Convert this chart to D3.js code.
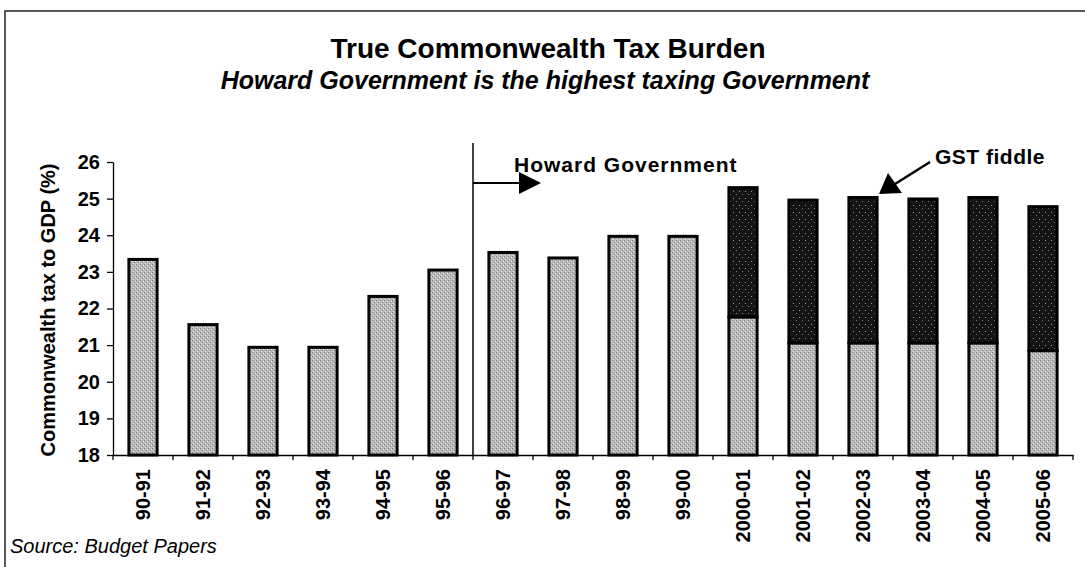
<!DOCTYPE html>
<html lang="en">
<head>
    <meta charset="UTF-8">
    <title>True Commonwealth Tax Burden</title>
    <script src="https://cdn.jsdelivr.net/npm/d3@7"></script>
    <style>
        body { margin: 0; background: #fff; }
        text { font-family: Arial, "Liberation Sans", sans-serif; fill: #000; }
    </style>
</head>
<body>
<script type="text/javascript">
    // categories (financial years)
    var years = ['90-91', '91-92', '92-93', '93-94', '94-95', '95-96', '96-97', '97-98',
        '98-99', '99-00', '2000-01', '2001-02', '2002-03', '2003-04', '2004-05', '2005-06'];
    // tax to GDP excluding GST (%)
    var baseTax = [23.34, 21.56, 20.94, 20.94, 22.33, 23.05, 23.53, 23.38,
        23.97, 23.97, 21.77, 21.06, 21.06, 21.06, 21.06, 20.85];
    // GST part on top (%)
    var gstTax = [0, 0, 0, 0, 0, 0, 0, 0, 0, 0, 3.53, 3.90, 3.97, 3.93, 3.97, 3.93];
    // y axis ticks
    var yTicks = [18, 19, 20, 21, 22, 23, 24, 25, 26];

    var width = 1085, height = 567;
    var svg = d3.select('body').append('svg')
        .attr('width', width)
        .attr('height', height);

    // fill patterns: light stipple and dark stipple
    var defs = svg.append('defs');
    var pl = defs.append('pattern').attr('id', 'light').attr('patternUnits', 'userSpaceOnUse')
        .attr('width', 4).attr('height', 4);
    pl.append('rect').attr('width', 4).attr('height', 4).attr('fill', '#b9b9b9');
    pl.append('rect').attr('x', 0).attr('y', 0).attr('width', 1).attr('height', 1).attr('fill', '#7a7a7a');
    pl.append('rect').attr('x', 2).attr('y', 2).attr('width', 1).attr('height', 1).attr('fill', '#808080');
    pl.append('rect').attr('x', 1).attr('y', 3).attr('width', 1).attr('height', 1).attr('fill', '#e8e8e8');
    pl.append('rect').attr('x', 3).attr('y', 1).attr('width', 1).attr('height', 1).attr('fill', '#e8e8e8');
    var pd = defs.append('pattern').attr('id', 'dark').attr('patternUnits', 'userSpaceOnUse')
        .attr('width', 6).attr('height', 7);
    pd.append('rect').attr('width', 6).attr('height', 7).attr('fill', '#141414');
    pd.append('rect').attr('x', 1).attr('y', 2).attr('width', 1).attr('height', 1).attr('fill', '#9a9a9a');
    pd.append('rect').attr('x', 4).attr('y', 5).attr('width', 1).attr('height', 1).attr('fill', '#777');

    // frame (top and left only)
    svg.append('path')
        .attr('d', 'M5,567V11H1085')
        .attr('fill', 'none').attr('stroke', '#222').attr('stroke-width', 1.5);

    // titles
    svg.append('text').attr('x', 548).attr('y', 58).attr('text-anchor', 'middle')
        .style('font-size', '28px').style('font-weight', 'bold')
        .text('True Commonwealth Tax Burden');
    svg.append('text').attr('x', 545).attr('y', 89).attr('text-anchor', 'middle')
        .style('font-size', '25px').style('font-weight', 'bold').style('font-style', 'italic')
        .text('Howard Government is the highest taxing Government');

    // plot area
    var x0 = 113, x1 = 1073, yTop = 162, yBot = 455;

    var xScale = d3.scaleBand()
        .domain(years)
        .range([x0, x1])
        .paddingInner(0.53)
        .paddingOuter(0.265);
    var yScale = d3.scaleLinear()
        .domain([18, 26])
        .range([yBot, yTop])
        .clamp(true);

    var step = xScale.step();
    function boundary(i) {
        return x0 + i * step;
    }

    // stacked data
    var rows = years.map(function (d, i) {
        return {year: d, base: baseTax[i], gst: gstTax[i]};
    });
    var series = d3.stack().keys(['base', 'gst'])(rows);
    var fills = {base: 'url(#light)', gst: 'url(#dark)'};

    svg.selectAll('.layer')
        .data(series)
        .enter()
        .append('g')
        .attr('class', 'layer')
        .attr('fill', function (s) { return fills[s.key]; })
        .selectAll('rect')
        .data(function (s) { return s.filter(function (d) { return d[1] > d[0]; }); })
        .enter()
        .append('rect')
        .attr('x', function (d) { return xScale(d.data.year); })
        .attr('y', function (d) { return yScale(d[1]); })
        .attr('width', xScale.bandwidth())
        .attr('height', function (d) { return yScale(d[0]) - yScale(d[1]); })
        .attr('stroke', '#000')
        .attr('stroke-width', 3);

    // y axis
    var yAxis = d3.axisLeft(yScale)
        .tickValues(yTicks)
        .tickFormat(d3.format('d'))
        .tickSize(6)
        .tickSizeOuter(0)
        .tickPadding(7);
    var gy = svg.append('g')
        .attr('transform', 'translate(' + x0 + ',0)')
        .call(yAxis);
    gy.selectAll('text').style('font-size', '20px').style('font-weight', 'bold');
    gy.selectAll('path, line').attr('stroke', '#000').attr('stroke-width', 1.3);

    // x axis (labels), boundary ticks drawn separately
    var xAxis = d3.axisBottom(xScale).tickSize(0).tickSizeOuter(0);
    var gx = svg.append('g')
        .attr('transform', 'translate(0,' + yBot + ')')
        .call(xAxis);
    gx.select('.domain').attr('stroke', '#000').attr('stroke-width', 1.3);
    gx.selectAll('text')
        .attr('transform', 'rotate(-90)')
        .attr('x', -14)
        .attr('y', 0)
        .attr('dy', '0.35em')
        .attr('text-anchor', 'end')
        .style('font-size', '20px')
        .style('font-weight', 'bold');
    svg.append('g').selectAll('line')
        .data(d3.range(years.length + 1))
        .enter()
        .append('line')
        .attr('x1', boundary).attr('x2', boundary)
        .attr('y1', yBot).attr('y2', yBot + 5)
        .attr('stroke', '#000').attr('stroke-width', 1.3);

    // y axis title
    svg.append('text')
        .attr('transform', 'translate(55,310) rotate(-90)')
        .attr('text-anchor', 'middle')
        .style('font-size', '20px').style('font-weight', 'bold')
        .text('Commonwealth tax to GDP (%)');

    // Howard Government divider + arrow
    var hx = boundary(6);
    svg.append('line')
        .attr('x1', hx).attr('x2', hx)
        .attr('y1', 143).attr('y2', yBot)
        .attr('stroke', '#000').attr('stroke-width', 1.5);
    svg.append('line')
        .attr('x1', hx).attr('x2', 522)
        .attr('y1', 183).attr('y2', 183)
        .attr('stroke', '#000').attr('stroke-width', 2);
    svg.append('path')
        .attr('d', 'M519,172L541,183L519,194Z')
        .attr('fill', '#000');
    svg.append('text').attr('x', 514).attr('y', 172)
        .style('font-size', '21px').style('font-weight', 'bold').style('letter-spacing', '1px')
        .text('Howard Government');

    // GST fiddle label + arrow
    svg.append('text').attr('x', 935).attr('y', 164)
        .style('font-size', '21px').style('font-weight', 'bold').style('letter-spacing', '0.5px')
        .text('GST fiddle');
    svg.append('line')
        .attr('x1', 930).attr('y1', 162)
        .attr('x2', 895).attr('y2', 184)
        .attr('stroke', '#000').attr('stroke-width', 2.5);
    svg.append('path')
        .attr('d', 'M879,194L888,173L902,193Z')
        .attr('fill', '#000');

    // source
    svg.append('text').attr('x', 10).attr('y', 553)
        .style('font-size', '20px').style('font-style', 'italic')
        .text('Source: Budget Papers');
</script>
</body>
</html>
